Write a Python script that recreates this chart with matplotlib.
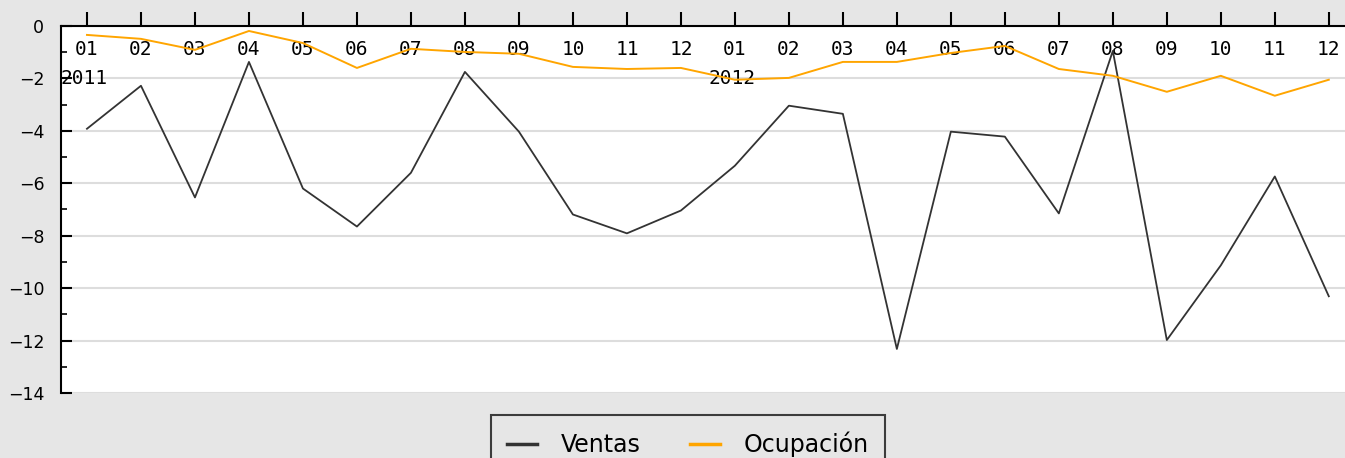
import matplotlib
matplotlib.use("Agg")
import matplotlib.pyplot as plt
from matplotlib.ticker import MultipleLocator
from matplotlib.transforms import blended_transform_factory


# ── Data ──────────────────────────────────────────────────────────────────────
months = ["01", "02", "03", "04", "05", "06", "07", "08", "09", "10", "11", "12"] * 2
years = ["2011", "2012"]
ventas = [-3.92, -2.28, -6.54, -1.37, -6.20, -7.65, -5.60, -1.75, -4.03, -7.19, -7.91, -7.04,
          -5.33, -3.04, -3.35, -12.32, -4.03, -4.22, -7.15, -0.95, -11.98, -9.13, -5.74, -10.31]
ocupacion = [-0.34, -0.49, -0.91, -0.19, -0.65, -1.60, -0.87, -0.99, -1.06, -1.56, -1.64, -1.60,
             -2.05, -1.98, -1.37, -1.37, -1.03, -0.76, -1.64, -1.90, -2.51, -1.90, -2.66, -2.05]

BG = "#e6e6e6"

# ── Figure ────────────────────────────────────────────────────────────────────
fig = plt.figure(figsize=(13.45, 4.58), dpi=100, facecolor=BG)
ax = fig.add_axes([61 / 1345, 65 / 458, (1345 - 61) / 1345, (393 - 26) / 458])
ax.set_facecolor("white")

x = list(range(len(months)))
ax.plot(x, ventas, color="#333333", lw=1.3, label="Ventas", zorder=3)
ax.plot(x, ocupacion, color="#ffa500", lw=1.4, label="Ocupación", zorder=3)

ax.set_xlim(-0.481, 23.3)
ax.set_ylim(-14, 0)

# grid
ax.yaxis.set_major_locator(MultipleLocator(2))
ax.yaxis.set_minor_locator(MultipleLocator(1))
ax.grid(axis="y", which="major", color="#dddddd", lw=1.5, zorder=0)

# spines
for side in ("right", "bottom"):
    ax.spines[side].set_visible(False)
ax.spines["top"].set_linewidth(1.5)
ax.spines["left"].set_linewidth(1.5)

# y ticks
ax.tick_params(axis="y", which="major", direction="in", length=8, width=1.5,
               labelsize=12.5, pad=12)
ax.tick_params(axis="y", which="minor", direction="in", length=4, width=1.2)
ax.set_yticks(range(-14, 1, 2))
ax.set_yticklabels([str(v).replace("-", "\u2212") for v in range(-14, 1, 2)])

# x ticks on top, labels inside the plot
ax.xaxis.tick_top()
ax.set_xticks(x)
ax.tick_params(axis="x", which="major", direction="out", length=10, width=1.5,
               labeltop=False, labelbottom=False)
trans = blended_transform_factory(ax.transData, ax.transAxes)
for i, m in enumerate(months):
    ax.text(i, 0.935, m, transform=trans, ha="center", va="center",
            fontsize=14, family="DejaVu Sans Mono", zorder=2)
for k, yr in enumerate(years):
    ax.text(k * 12 - 0.05, 0.858, yr, transform=trans, ha="center", va="center",
            fontsize=14, family="DejaVu Sans Mono", zorder=2)

# legend
leg = fig.legend(loc="upper center", bbox_to_anchor=(688 / 1345, 1 - 415 / 458),
                 ncol=2, fontsize=17, frameon=True, fancybox=False,
                 handlelength=1.27, handletextpad=1.0, columnspacing=2.1,
                 borderpad=0.7, borderaxespad=0)
leg.get_frame().set_facecolor(BG)
leg.get_frame().set_edgecolor("#111111")
leg.get_frame().set_linewidth(1.5)
for line in leg.get_lines():
    line.set_linewidth(2.5)

fig.savefig("out.png", dpi=100, facecolor=BG)
